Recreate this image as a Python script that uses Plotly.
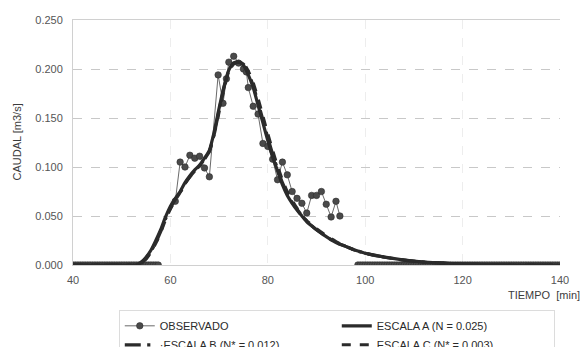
import numpy as np
import plotly.graph_objects as go

# --- Observed hydrograph (time in min, discharge in m3/s) ---
t_obs_before = [40 + 0.5 * i for i in range(36)]          # 40.0 .. 57.5
q_obs_before = [0.0] * len(t_obs_before)

t_obs_event = [61.0, 62.0, 63.0, 64.0, 65.0, 66.0, 67.0, 68.0, 69.8, 70.8,
               71.5, 72.0, 73.0, 74.0, 75.0, 75.6, 76.0, 77.0, 78.0, 79.0,
               80.0, 81.0, 82.0, 83.0, 84.0, 85.0, 86.0, 87.0, 88.0, 89.0,
               90.0, 91.0, 92.0, 93.0, 94.0, 94.8]
q_obs_event = [0.065, 0.105, 0.100, 0.112, 0.109, 0.111, 0.099, 0.090, 0.194, 0.165,
               0.190, 0.207, 0.213, 0.206, 0.200, 0.197, 0.181, 0.162, 0.154, 0.124,
               0.121, 0.108, 0.087, 0.105, 0.092, 0.075, 0.068, 0.063, 0.053, 0.071,
               0.071, 0.075, 0.062, 0.049, 0.065, 0.050]

t_obs_after = [98.5 + 0.5 * i for i in range(84)]          # 98.5 .. 140.0
q_obs_after = [0.0] * len(t_obs_after)

# --- Simulated hydrographs for the three scales ---
t_sim = [40, 45, 50, 53, 54, 55, 56, 57, 58, 59, 60, 61, 62, 63, 64, 65, 66, 67,
         68, 69, 70, 71, 72, 73, 74, 75, 76, 77, 78, 79, 80, 81, 82, 83, 84, 85,
         86, 87, 88, 89, 90, 92, 94, 96, 98, 100, 104, 108, 112, 116, 120, 130, 140]
q_esc_a = [0.0, 0.0, 0.0, 0.0, 0.003, 0.008, 0.015, 0.025, 0.036, 0.049, 0.060,
           0.068, 0.075, 0.084, 0.091, 0.097, 0.102, 0.109, 0.117, 0.136, 0.160,
           0.182, 0.199, 0.206, 0.207, 0.204, 0.194, 0.181, 0.163, 0.145, 0.127,
           0.110, 0.096, 0.082, 0.071, 0.063, 0.056, 0.050, 0.044, 0.040, 0.036,
           0.029, 0.023, 0.019, 0.015, 0.012, 0.008, 0.005, 0.003, 0.002, 0.001,
           0.0, 0.0]
q_esc_b = [0.0, 0.0, 0.0, 0.0, 0.002, 0.007, 0.014, 0.023, 0.034, 0.047, 0.058,
           0.067, 0.074, 0.083, 0.090, 0.096, 0.101, 0.108, 0.116, 0.134, 0.158,
           0.181, 0.198, 0.206, 0.207, 0.205, 0.196, 0.183, 0.166, 0.148, 0.130,
           0.113, 0.098, 0.084, 0.073, 0.064, 0.057, 0.050, 0.045, 0.040, 0.036,
           0.029, 0.023, 0.019, 0.015, 0.012, 0.008, 0.005, 0.003, 0.002, 0.001,
           0.0, 0.0]
q_esc_c = [0.0, 0.0, 0.0, 0.0, 0.002, 0.006, 0.013, 0.022, 0.033, 0.046, 0.057,
           0.066, 0.074, 0.083, 0.090, 0.096, 0.101, 0.108, 0.116, 0.133, 0.156,
           0.179, 0.197, 0.205, 0.207, 0.206, 0.198, 0.186, 0.170, 0.152, 0.134,
           0.117, 0.101, 0.087, 0.075, 0.066, 0.058, 0.051, 0.045, 0.041, 0.037,
           0.030, 0.024, 0.019, 0.015, 0.012, 0.008, 0.005, 0.003, 0.002, 0.001,
           0.0, 0.0]

x_ticks = [40, 60, 80, 100, 120, 140]
y_ticks = [0.0, 0.05, 0.10, 0.15, 0.20, 0.25]

# gaps (None) separate the dry periods from the event
t_obs = t_obs_before + [None] + t_obs_event + [None] + t_obs_after
q_obs = q_obs_before + [None] + q_obs_event + [None] + q_obs_after

FONT = "Liberation Sans, Arial, sans-serif"
TXT = "#3c3c3c"
CURVE = "#2b2b2b"

fig = go.Figure()

fig.add_trace(go.Scatter(
    x=t_obs, y=q_obs, name="OBSERVADO", mode="lines+markers",
    line=dict(color="#6a6a6a", width=1),
    marker=dict(color="#4a4a4a", size=6.5, line=dict(color="#2e2e2e", width=0.6)),
    connectgaps=False,
))
fig.add_trace(go.Scatter(
    x=t_sim, y=q_esc_a, name="ESCALA A (N = 0.025)", mode="lines",
    line=dict(color=CURVE, width=3.2, shape="spline", smoothing=0.6),
))
fig.add_trace(go.Scatter(
    x=t_sim, y=q_esc_b, name="·ESCALA B (N* = 0.012)", mode="lines",
    line=dict(color=CURVE, width=3.2, shape="spline", smoothing=0.6, dash="longdashdot"),
))
fig.add_trace(go.Scatter(
    x=t_sim, y=q_esc_c, name="ESCALA C (N* = 0.003)", mode="lines",
    line=dict(color=CURVE, width=3.0, shape="spline", smoothing=0.6, dash="dash"),
))

fig.update_layout(
    width=582, height=347,
    margin=dict(l=73, r=22, t=20, b=82, autoexpand=False),
    paper_bgcolor="white", plot_bgcolor="white",
    font=dict(family=FONT, size=11, color=TXT),
    showlegend=True,
    legend=dict(
        orientation="h",
        x=0.094, xanchor="left",
        y=-0.185, yanchor="top",
        entrywidth=172, entrywidthmode="pixels",
        bgcolor="white", bordercolor="#dcdcdc", borderwidth=1,
        font=dict(family=FONT, size=11, color="#2a2a2a"),
        itemwidth=30,
        traceorder="normal",
        tracegroupgap=0,
    ),
    annotations=[
        dict(text="CAUDAL [m3/s]", textangle=-90, xref="paper", yref="paper",
             x=-0.117, y=0.5, xanchor="center", yanchor="middle",
             showarrow=False, font=dict(family=FONT, size=11, color=TXT)),
        dict(text="TIEMPO&nbsp;&nbsp;[min]", xref="paper", yref="paper",
             x=1.045, y=-0.122, xanchor="right", yanchor="middle",
             showarrow=False, font=dict(family=FONT, size=11, color=TXT)),
    ],
)

fig.update_xaxes(
    range=[40, 140], tickvals=x_ticks, ticktext=[str(v) for v in x_ticks],
    showgrid=True, gridcolor="#ededed", griddash="dash", gridwidth=1,
    showline=True, linecolor="#d0d0d0", linewidth=1, mirror=True,
    zeroline=False, ticks="", ticklabelstandoff=5,
    tickfont=dict(family=FONT, size=11, color="#555555"),
)
fig.update_yaxes(
    range=[0, 0.25], tickvals=y_ticks, tickformat=".3f",
    showgrid=True, gridcolor="#c8c8c8", griddash="dash", gridwidth=1,
    showline=True, linecolor="#d0d0d0", linewidth=1,
    zeroline=False, ticks="", ticklabelstandoff=7,
    tickfont=dict(family=FONT, size=11, color="#555555"),
)

fig.write_html("out.html")
